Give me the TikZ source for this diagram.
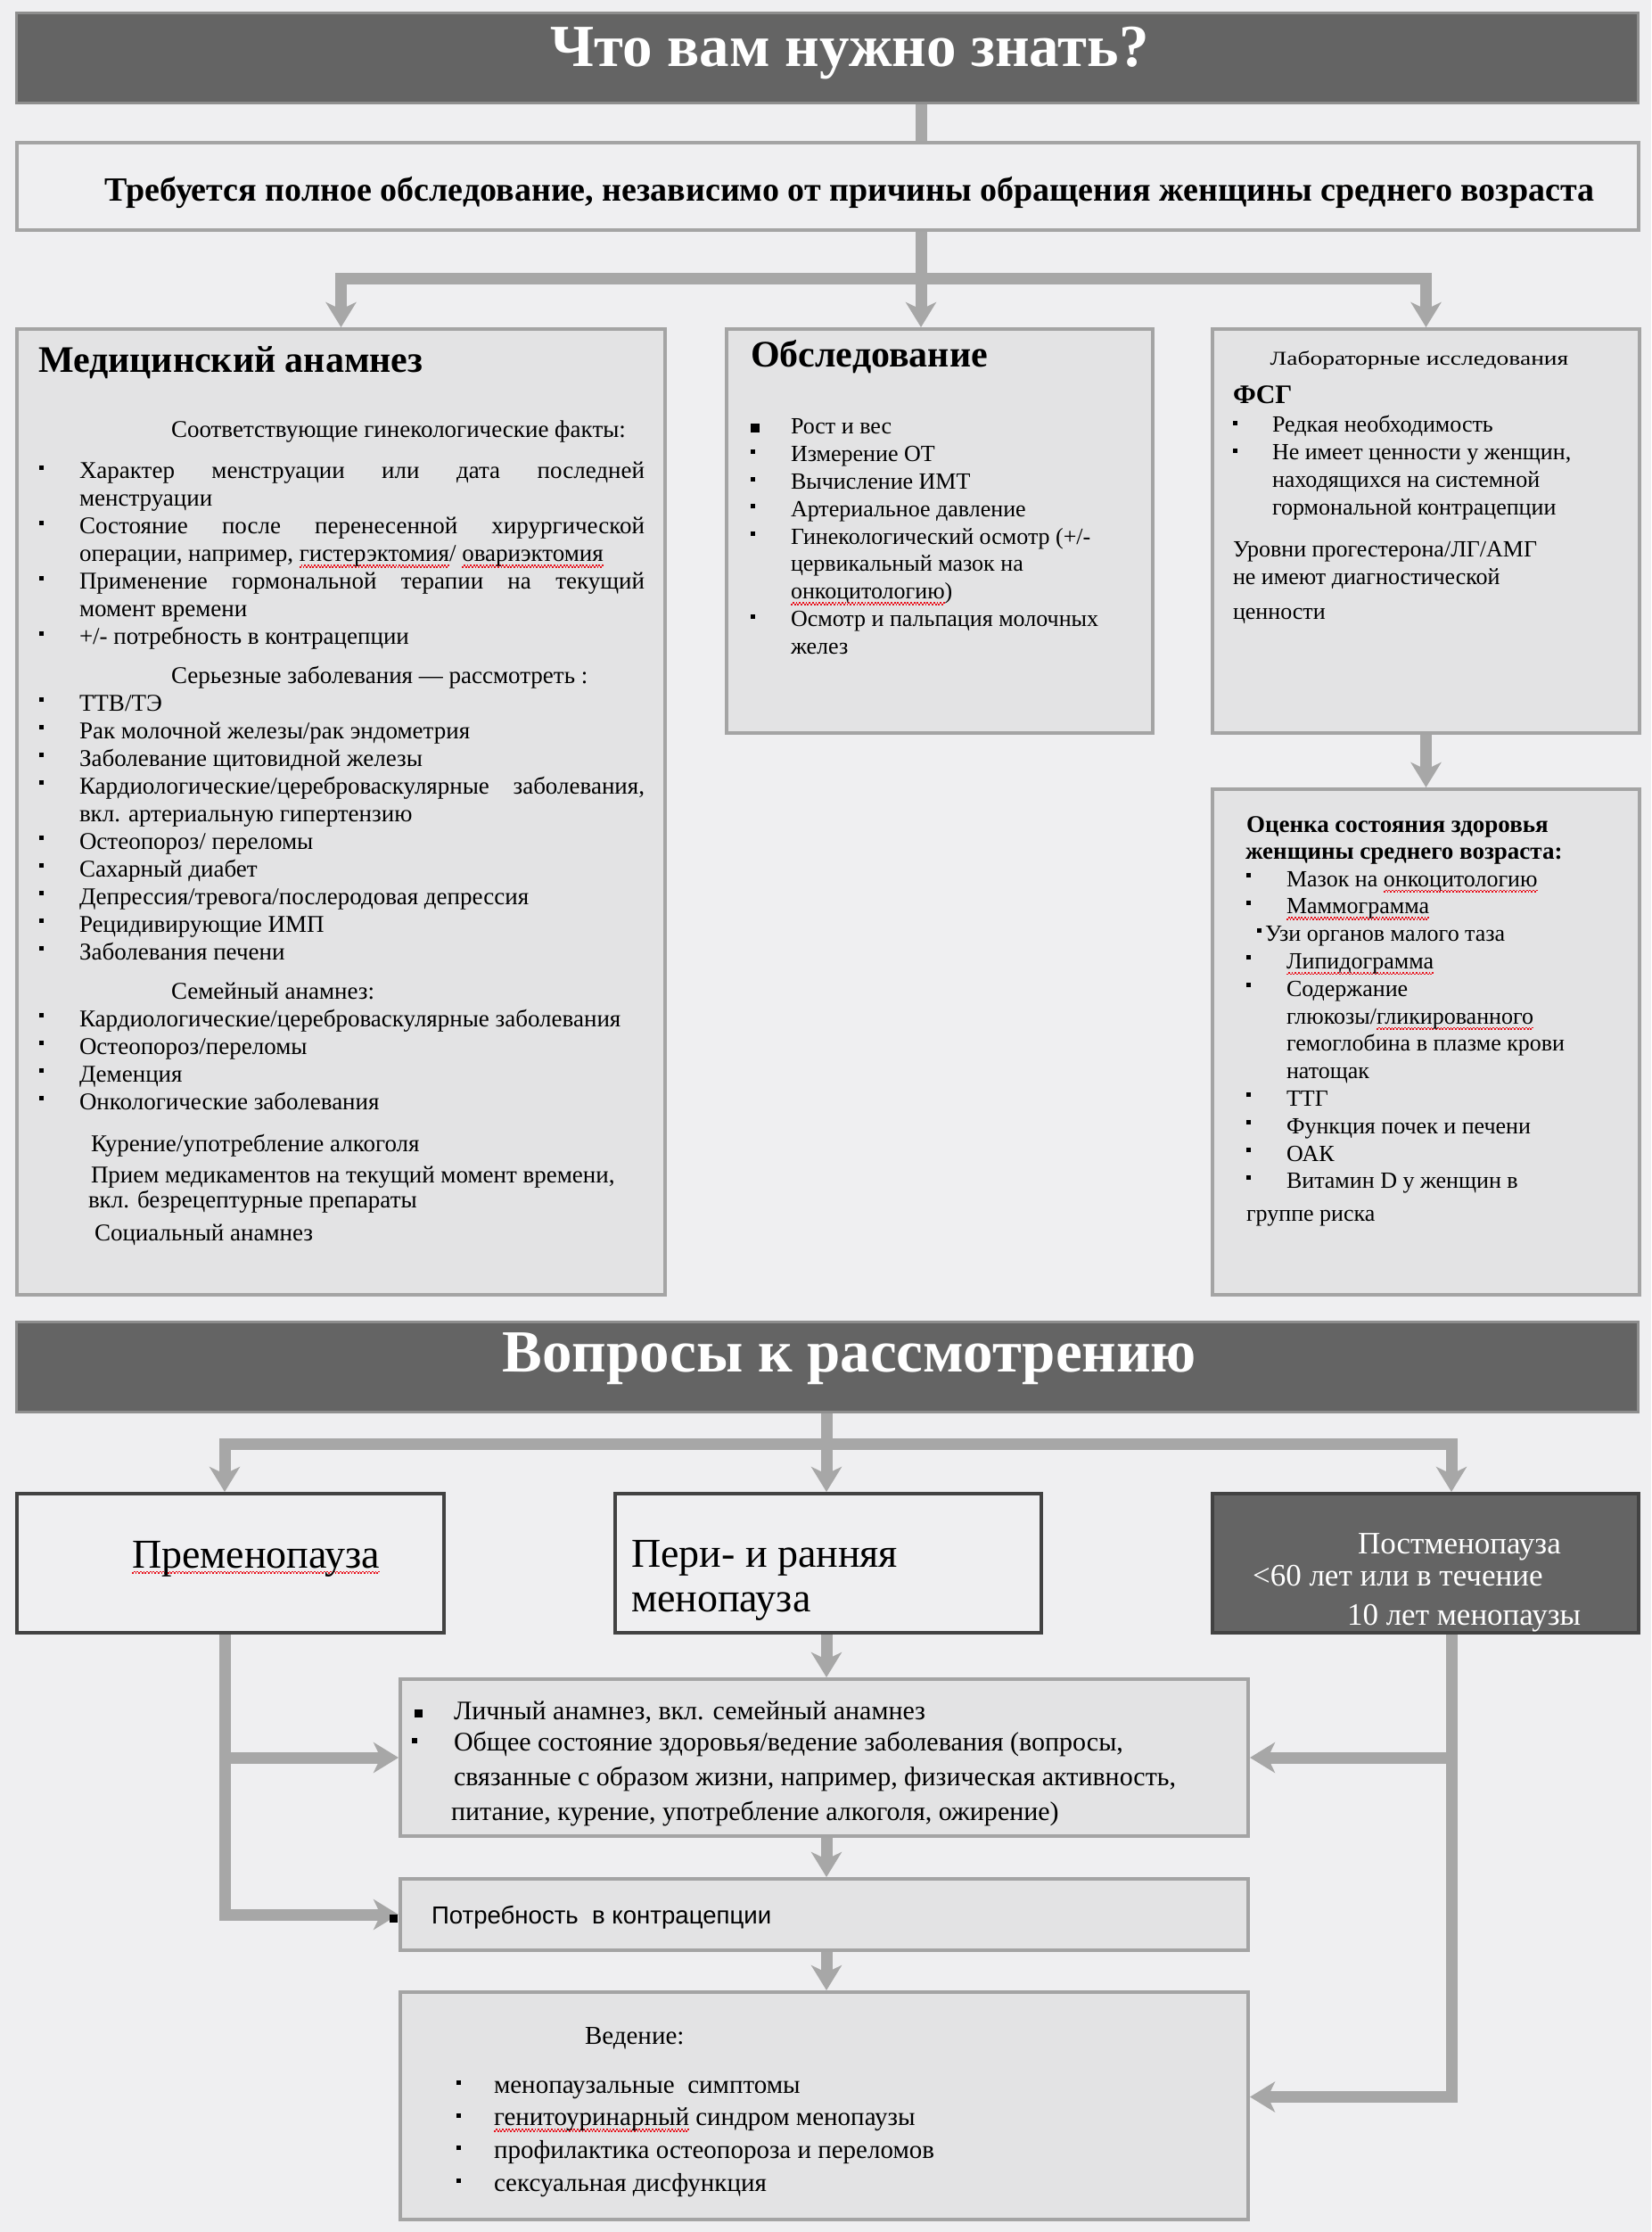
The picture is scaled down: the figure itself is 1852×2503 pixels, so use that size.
\documentclass[tikz,border=0pt]{standalone}
\usepackage{fontspec}
\setmainfont{Liberation Serif}
\newfontfamily\sansf{Liberation Sans}
\usetikzlibrary{arrows.meta}
\definecolor{bgc}{HTML}{EFEFF1}
\definecolor{cardfill}{HTML}{E3E3E4}
\definecolor{cardline}{HTML}{A4A4A4}
\definecolor{barfill}{HTML}{646464}
\definecolor{barline}{HTML}{8E8E8E}
\definecolor{conncol}{HTML}{A7A7A7}
\definecolor{stageline}{HTML}{424242}
\definecolor{spell}{HTML}{E8101A}
\newcommand\rw[1]{\setbox0\hbox{#1}\leavevmode\rlap{\color{spell}\hbox to \wd0{\xleaders\hbox{\rule[-3.4pt]{0.9pt}{0.8pt}\rule[-2.6pt]{0.9pt}{0.8pt}}\hfil}}\box0}
\newlength\myhang
\newcommand\mybul{}
\newcommand\itm[1]{\par\noindent\hangindent=\myhang\hangafter=1\makebox[\myhang][l]{\mybul}#1}
\newcommand\sqr[2]{\rule[#2]{#1}{#1}}
\hbadness=10000 \tolerance=9999 \hfuzz=20pt
\tikzset{
  card/.style={draw=cardline, line width=2pt, fill=cardfill, anchor=north west, inner sep=0, rectangle},
  plaincard/.style={draw=cardline, line width=2pt, fill=bgc, anchor=north west, inner sep=0, rectangle},
  titlebar/.style={draw=barline, line width=1.5pt, fill=barfill, anchor=north west, inner sep=0, rectangle},
  stagebox/.style={draw=stageline, line width=2pt, fill=bgc, anchor=north west, inner sep=0, rectangle},
  darkstage/.style={draw=stageline, line width=2pt, fill=barfill, anchor=north west, inner sep=0, rectangle},
  txt/.style={anchor=base west, inner sep=0, outer sep=0},
  titletext/.style={anchor=base, inner sep=0, text=white, font=\bfseries\fontsize{33.5}{38}\selectfont},
  conn/.style={draw=conncol, line width=6.5pt},
  arr/.style={conn, -{Stealth[length=14pt,width=17pt,inset=4pt]}},
}
\begin{document}
\begin{tikzpicture}[x=0.5pt,y=-0.5pt]
\fill[bgc] (0,0) rectangle (1852,2503);
\useasboundingbox (0,0) rectangle (1852,2503);

% ---------- boxes ----------
\node[titlebar, minimum width=909.5pt, minimum height=50.5pt] (T1) at (17,13) {};
\node[plaincard, minimum width=909.5pt, minimum height=49pt] (B2) at (17,158) {};
\node[card, minimum width=363.5pt, minimum height=541.5pt] (A) at (17,367) {};
\node[card, minimum width=239pt, minimum height=226.5pt] (B) at (813,367) {};
\node[card, minimum width=239.5pt, minimum height=226.5pt] (C) at (1358,367) {};
\node[card, minimum width=239.5pt, minimum height=283.5pt] (D) at (1358,883) {};
\node[titlebar, minimum width=909.5pt, minimum height=50.5pt] (T2) at (17,1481) {};
\node[stagebox, minimum width=239.5pt, minimum height=78pt] (E) at (17,1673) {};
\node[stagebox, minimum width=239pt, minimum height=78pt] (F) at (688,1673) {};
\node[darkstage, minimum width=239pt, minimum height=78pt] (G) at (1358,1673) {};
\node[card, minimum width=475.5pt, minimum height=88pt] (H) at (447,1881) {};
\node[card, minimum width=475.5pt, minimum height=40pt] (I) at (447,2105) {};
\node[card, minimum width=475.5pt, minimum height=127.5pt] (J) at (447,2232) {};

% ---------- connectors ----------
\coordinate (j1) at (1033,313);
\coordinate (j2) at (927,1619);
\coordinate (xl) at (252,1619);
\coordinate (xr) at (1628,1619);
\draw[conn] (j1 |- T1.south) -- (j1 |- B2.north);
\draw[conn] (j1 |- B2.south) -- (j1);
\draw[arr] (j1) -| (A.north);
\draw[arr] (j1) -- (j1 |- B.north);
\draw[arr] (j1) -| (C.north);
\draw[arr] (C.south) -- (D.north);
\draw[conn] (j2 |- T2.south) -- (j2);
\draw[arr] (j2) -| (xl |- E.north);
\draw[arr] (j2) -- (j2 |- F.north);
\draw[arr] (j2) -| (xr |- G.north);
\draw[arr] (j2 |- F.south) -- (j2 |- H.north);
\draw[arr] (j2 |- H.south) -- (j2 |- I.north);
\draw[arr] (j2 |- I.south) -- (j2 |- J.north);
\draw[arr] (xl |- E.south) |- (I.west);
\draw[arr] (xl |- H.west) -- (H.west);
\draw[arr] (xr |- G.south) |- ([yshift=5pt]J.east);
\draw[arr] (xr |- H.east) -- (H.east);

% ---------- titles ----------
\node[titletext] (T1t) at (953,75) {Что вам нужно знать?};
\node[titletext] (T2t) at (953,1538) {Вопросы к рассмотрению};
\node[anchor=base, inner sep=0, font=\bfseries\fontsize{19}{22}\selectfont] (B2t) at (953,226)
  {Требуется полное обследование, независимо от причины обращения женщины среднего возраста};

% ---------- box A ----------
\node[txt, font=\bfseries\fontsize{21}{25}\selectfont] (Ah) at (43,418) {Медицинский анамнез};
\node[txt] (Ab) at (44,490) {\begin{minipage}[t]{339.5pt}\fontsize{13.5}{15.5}\selectfont
\setlength\myhang{22.5pt}\renewcommand\mybul{\sqr{2.5pt}{5pt}}%
\hspace*{74pt}Соответствующие гинекологические факты:\par
\vspace{7.85pt}
\itm{Характер менструации или дата последней\linebreak менструации}
\itm{Состояние после перенесенной хирургической\linebreak операции, например, \rw{гистерэктомия}/ \rw{овариэктомия}}
\itm{Применение гормональной терапии на текущий\linebreak момент времени}
\itm{+/- потребность в контрацепции}\par
\vspace{6.2pt}
\hspace*{74pt}Серьезные заболевания — рассмотреть :\par
\itm{ТТВ/ТЭ}
\itm{Рак молочной железы/рак эндометрия}
\itm{Заболевание щитовидной железы}
\itm{Кардиологические/цереброваскулярные заболевания,\linebreak вкл. артериальную гипертензию}
\itm{Остеопороз/ переломы}
\itm{Сахарный диабет}
\itm{Депрессия/тревога/послеродовая депрессия}
\itm{Рецидивирующие ИМП}
\itm{Заболевания печени}\par
\vspace{6.5pt}
\hspace*{74pt}Семейный анамнез:\par
\itm{Кардиологические/цереброваскулярные заболевания}
\itm{Остеопороз/переломы}
\itm{Деменция}
\itm{Онкологические заболевания}\par
\vspace{8.4pt}
\hspace*{29pt}Курение/употребление алкоголя\par
\vspace{1.75pt}
\hspace*{29pt}Прием медикаментов на текущий момент времени,\par
\vspace{-1.25pt}
\hspace*{27.5pt}вкл. безрецептурные препараты\par
\vspace{2.75pt}
\hspace*{31pt}Социальный анамнез
\end{minipage}};

% ---------- box B ----------
\node[txt, font=\bfseries\fontsize{21}{25}\selectfont] (Bh) at (842,412) {Обследование};
\node[txt] (Bb) at (842,487) {\begin{minipage}[t]{209pt}\fontsize{13}{15.4}\selectfont\raggedright
\setlength\myhang{22.5pt}\renewcommand\mybul{\sqr{2.5pt}{4.5pt}}%
\noindent\makebox[\myhang][l]{\sqr{5pt}{0.8pt}}Рост и вес
\itm{Измерение ОТ}
\itm{Вычисление ИМТ}
\itm{Артериальное давление}
\itm{Гинекологический осмотр (+/-\newline цервикальный мазок на\newline \rw{онкоцитологию})}
\itm{Осмотр и пальпация молочных\newline желез}
\end{minipage}};

% ---------- box C ----------
\node[anchor=base, inner sep=0] (Ch) at (1592,410) {\scalebox{1.25}[1]{\fontsize{11}{13}\selectfont Лабораторные исследования}};
\node[txt, font=\bfseries\fontsize{15}{18}\selectfont] (Cf) at (1383,453) {ФСГ};
\node[txt] (Cb) at (1383,485) {\begin{minipage}[t]{203.5pt}\fontsize{13}{15.35}\selectfont\raggedright
\setlength\myhang{22pt}\renewcommand\mybul{\sqr{2.5pt}{4pt}}%
\itm{Редкая необходимость}
\itm{Не имеет ценности у женщин,\newline находящихся на системной\newline гормональной контрацепции}\par
\vspace{8.5pt}
\noindent Уровни прогестерона/ЛГ/АМГ\par
\noindent не имеют диагностической\par
\vspace{4pt}
\noindent ценности
\end{minipage}};

% ---------- box D ----------
\node[txt] (Dh) at (1398,933) {\begin{minipage}[t]{215pt}\bfseries\fontsize{13.5}{15}\selectfont
Оценка состояния здоровья\par
\hspace*{-0.5pt}женщины среднего возраста:
\end{minipage}};
\node[txt] (Db) at (1398,994) {\begin{minipage}[t]{215pt}\fontsize{13}{15.4}\selectfont\raggedright
\setlength\myhang{22.5pt}\renewcommand\mybul{\sqr{2.5pt}{5pt}}%
\itm{Мазок на \rw{онкоцитологию}}
\itm{\rw{Маммограмма}}\par
\noindent\hspace*{6pt}\sqr{2.5pt}{5pt}\hspace{2pt}Узи органов малого таза
\itm{\rw{Липидограмма}}
\itm{Содержание\newline глюкозы/\rw{гликированного}\newline гемоглобина в плазме крови\newline натощак}
\itm{ТТГ}
\itm{Функция почек и печени}
\itm{ОАК}
\itm{Витамин D у женщин в\\[3pt] группе риска}
\end{minipage}};

% ---------- stage boxes ----------
\node[txt, font=\fontsize{23}{26}\selectfont] (Et) at (148,1758) {\rw{Пременопауза}};
\node[txt] (Ft) at (708,1757) {\begin{minipage}[t]{220pt}\fontsize{23}{25}\selectfont
Пери- и ранняя\par менопауза\end{minipage}};
\node[txt, text=white] (Gt) at (1405,1742) {\begin{minipage}[t]{220pt}\fontsize{17.5}{18}\selectfont
\hspace*{59pt}Постменопауза\par
\noindent<60 лет или в течение\par
\vspace{4pt}
\hspace*{53pt}10 лет менопаузы\end{minipage}};

% ---------- box H ----------
\node[txt] (Hb) at (465,1928) {\begin{minipage}[t]{450pt}\fontsize{15}{19.5}\selectfont\raggedright
\noindent\makebox[22pt][l]{\sqr{4.5pt}{1pt}}Личный анамнез, вкл. семейный анамнез\par
\vspace{-2pt}
\noindent\hangindent=22pt\hangafter=1\makebox[22pt][l]{\hspace*{-1.5pt}\sqr{3pt}{4pt}}Общее состояние здоровья/ведение заболевания (вопросы,\newline связанные с образом жизни, например, физическая активность,\newline\hspace*{-1.5pt}питание, курение, употребление алкоголя, ожирение)
\end{minipage}};

% ---------- box I ----------
\node[txt] (It) at (437,2157) {\makebox[23.5pt][l]{\sqr{4.5pt}{0.5pt}}\sansf\fontsize{13.8}{16}\selectfont Потребность \ в контрацепции};

% ---------- box J ----------
\node[txt, font=\fontsize{14.5}{17}\selectfont] (Jh) at (656,2292) {Ведение:};
\node[txt] (Jb) at (512,2347) {\begin{minipage}[t]{400pt}\fontsize{14.5}{18.35}\selectfont\raggedright
\setlength\myhang{21pt}\renewcommand\mybul{\sqr{2.5pt}{4.5pt}}%
\itm{менопаузальные \ симптомы}
\itm{\rw{генитоуринарный} \ синдром менопаузы}
\itm{профилактика остеопороза и переломов}
\itm{сексуальная дисфункция}
\end{minipage}};
\end{tikzpicture}
\end{document}
